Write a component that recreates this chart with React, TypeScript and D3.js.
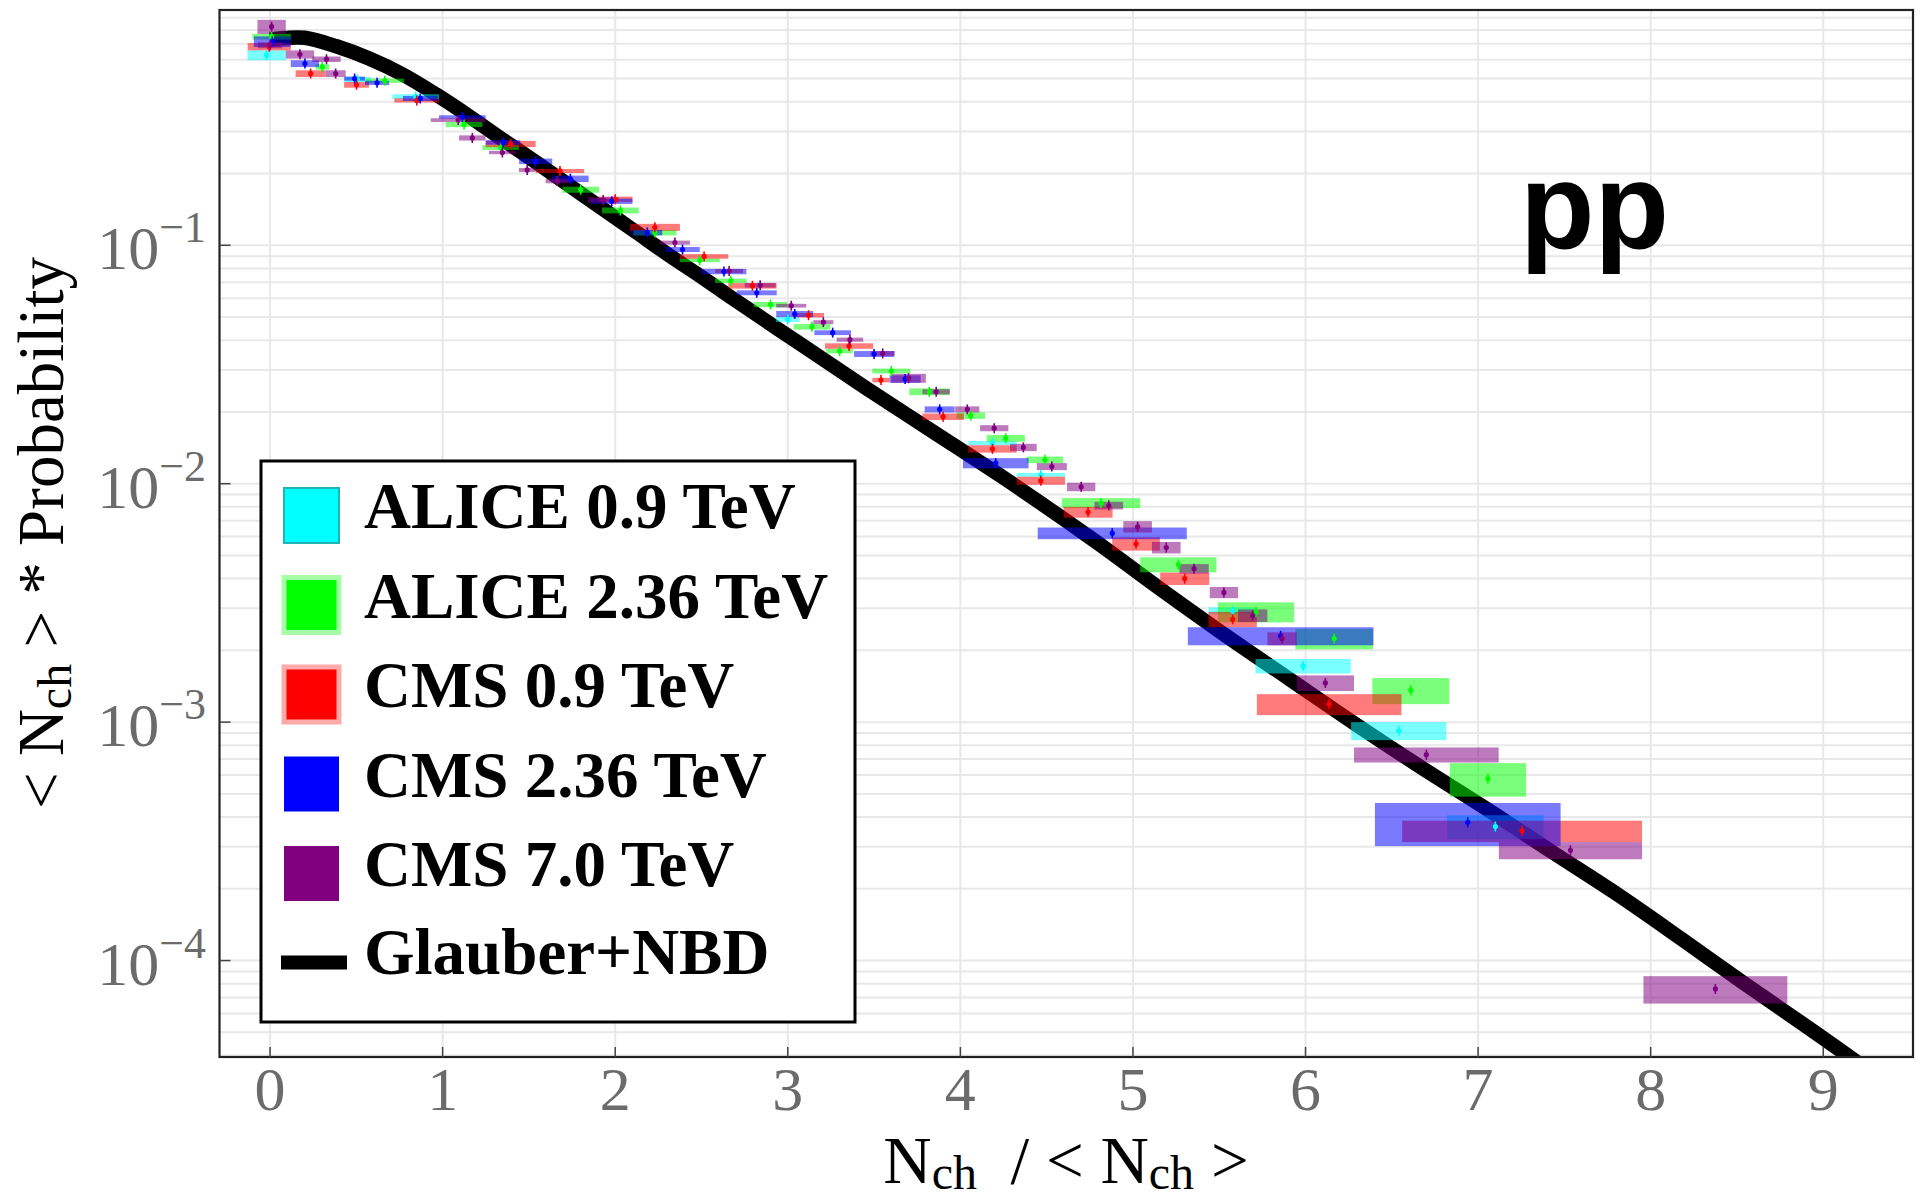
import React from 'react';
import * as d3 from 'd3';

// ---------- data ----------
const xTicks = [0, 1, 2, 3, 4, 5, 6, 7, 8, 9];
const yTickExps = [-1, -2, -3, -4];

// each point: [x, xHalfWidth, y, yErr]
const alice09: number[][] = [
  [-0.02, 0.111, 0.627, 0.03], [0.506, 0.077, 0.496, 0.012], [0.844, 0.135, 0.42, 0.01],
  [3.0, 0.068, 0.0489, 0.0012], [4.186, 0.14, 0.0148, 0.0003], [4.466, 0.14, 0.0109, 0.0002],
  [5.578, 0.14, 0.00293, 0.0001], [5.986, 0.276, 0.00172, 0.00012], [6.54, 0.276, 0.00092, 0.00008],
  [7.10, 0.28, 0.000365, 0.000042],
];
const alice236: number[][] = [
  [0.009, 0.111, 0.75, 0.021], [0.303, 0.039, 0.56, 0.015], [0.665, 0.111, 0.49, 0.01],
  [1.124, 0.106, 0.321, 0.008], [1.336, 0.106, 0.257, 0.006], [1.8, 0.106, 0.171, 0.005],
  [2.03, 0.106, 0.14, 0.004], [2.23, 0.125, 0.113, 0.003], [2.49, 0.116, 0.0865, 0.0015],
  [2.67, 0.092, 0.071, 0.0015], [2.9, 0.097, 0.0564, 0.0014], [3.14, 0.106, 0.0455, 0.0012],
  [3.3, 0.077, 0.036, 0.0008], [3.6, 0.11, 0.0297, 0.0007], [3.82, 0.116, 0.0243, 0.0008],
  [4.06, 0.083, 0.0193, 0.0006], [4.263, 0.111, 0.0155, 0.0005], [4.49, 0.106, 0.0126, 0.0004],
  [4.815, 0.227, 0.0083, 0.0004], [5.263, 0.221, 0.00458, 0.00033], [5.713, 0.221, 0.0029, 0.00028],
  [6.166, 0.225, 0.00224, 0.00022], [6.61, 0.223, 0.00136, 0.00017], [7.057, 0.221, 0.00058, 0.000093],
];
const cms09: number[][] = [
  [-0.005, 0.125, 0.681, 0.024], [0.235, 0.087, 0.525, 0.017], [0.501, 0.072, 0.471, 0.013],
  [0.85, 0.13, 0.405, 0.008], [1.394, 0.145, 0.266, 0.008], [1.68, 0.14, 0.205, 0.004],
  [2.0, 0.1, 0.156, 0.004], [2.23, 0.145, 0.119, 0.004], [2.515, 0.14, 0.0898, 0.002],
  [2.795, 0.14, 0.0676, 0.0018], [3.12, 0.09, 0.0509, 0.0011], [3.355, 0.14, 0.0378, 0.001],
  [3.54, 0.05, 0.0272, 0.0006], [3.9, 0.12, 0.0191, 0.0006], [4.186, 0.14, 0.014, 0.0005],
  [4.466, 0.14, 0.0103, 0.0004], [4.74, 0.142, 0.0076, 0.0004], [5.018, 0.138, 0.0056, 0.00036],
  [5.3, 0.142, 0.004, 0.00024], [5.578, 0.14, 0.0027, 0.0002], [6.137, 0.419, 0.00119, 0.00012],
  [7.255, 0.695, 0.00035, 0.000036],
];
const cms236: number[][] = [
  [0.013, 0.107, 0.715, 0.037], [0.202, 0.082, 0.578, 0.019], [0.49, 0.06, 0.5, 0.01],
  [0.62, 0.07, 0.48, 0.01], [0.87, 0.1, 0.413, 0.01], [1.114, 0.135, 0.345, 0.006],
  [1.35, 0.1, 0.27, 0.006], [1.539, 0.096, 0.225, 0.006], [1.74, 0.106, 0.19, 0.006],
  [1.98, 0.12, 0.153, 0.004], [2.186, 0.087, 0.113, 0.003], [2.39, 0.1, 0.096, 0.0023],
  [2.63, 0.13, 0.0776, 0.002], [2.82, 0.116, 0.0632, 0.0015], [3.04, 0.107, 0.0515, 0.0015],
  [3.26, 0.106, 0.043, 0.001], [3.5, 0.116, 0.035, 0.001], [3.68, 0.09, 0.0275, 0.001],
  [3.88, 0.087, 0.0205, 0.0006], [4.205, 0.19, 0.0122, 0.0006], [4.88, 0.432, 0.0062, 0.00035],
  [5.856, 0.538, 0.0023, 0.0002], [6.94, 0.538, 0.00038, 0.000078],
];
const cms70: number[][] = [
  [0.009, 0.082, 0.826, 0.056], [0.0, 0.07, 0.69, 0.02], [0.173, 0.082, 0.632, 0.025],
  [0.327, 0.082, 0.603, 0.016], [0.38, 0.058, 0.525, 0.017], [1.09, 0.159, 0.335, 0.006],
  [1.172, 0.077, 0.282, 0.007], [1.346, 0.077, 0.245, 0.004], [1.49, 0.048, 0.207, 0.004],
  [1.664, 0.067, 0.186, 0.004], [1.93, 0.09, 0.155, 0.004], [2.346, 0.087, 0.1026, 0.002],
  [2.66, 0.08, 0.078, 0.0015], [2.84, 0.09, 0.068, 0.0015], [3.02, 0.087, 0.0558, 0.001],
  [3.206, 0.058, 0.0476, 0.0009], [3.36, 0.077, 0.0402, 0.0008], [3.55, 0.07, 0.0352, 0.0008],
  [3.7, 0.1, 0.0277, 0.0012], [3.86, 0.08, 0.0243, 0.0006], [4.04, 0.07, 0.0205, 0.0006],
  [4.196, 0.082, 0.0171, 0.0005], [4.365, 0.077, 0.0142, 0.0005], [4.53, 0.087, 0.0118, 0.0004],
  [4.7, 0.082, 0.0097, 0.0004], [4.86, 0.083, 0.0081, 0.0003], [5.027, 0.083, 0.0066, 0.00036],
  [5.193, 0.083, 0.0054, 0.0003], [5.354, 0.085, 0.0044, 0.0002], [5.527, 0.082, 0.0035, 0.00019],
  [5.694, 0.085, 0.0028, 0.00017], [5.864, 0.085, 0.00224, 0.00014], [6.115, 0.166, 0.00146, 0.00011],
  [6.7, 0.419, 0.00073, 0.000053], [7.535, 0.415, 0.00029, 0.000024], [8.375, 0.417, 0.000076, 0.00001],
];

// Glauber+NBD curve
const curveX = [0.0, 0.09, 0.2, 0.38, 0.574, 0.767, 0.96, 1.153, 1.346, 1.539, 1.732, 1.925, 2.119, 2.312,
  2.505, 2.684, 3.071, 3.457, 3.843, 4.229, 4.78, 5.156, 5.533, 5.91, 6.29, 6.67, 7.04, 7.42, 7.8, 8.18,
  8.55, 8.93, 9.3];
const curveY = [0.728, 0.74, 0.742, 0.685, 0.607, 0.521, 0.43, 0.348, 0.278, 0.2235, 0.1785, 0.1426, 0.1138,
  0.0908, 0.0733, 0.0596, 0.0386, 0.0251, 0.0165, 0.01084, 0.00575, 0.00363, 0.00232, 0.00151, 0.00098,
  0.000646, 0.000437, 0.000288, 0.000191, 0.000123, 0.0000794, 0.0000513, 0.0000331];

const seriesNames = ['ALICE 0.9 TeV', 'ALICE 2.36 TeV', 'CMS 0.9 TeV', 'CMS 2.36 TeV', 'CMS 7.0 TeV'];
const modelName = 'Glauber+NBD';
const panelLabel = 'pp';

const SERIF = '"Liberation Serif", "Times New Roman", "DejaVu Serif", serif';
const SANS = '"Liberation Sans", Arial, Helvetica, sans-serif';

export default function App() {
  const W = 1923, H = 1202;
  const L = 219.5, R = 1913, T = 10, B = 1057;
  const x = d3.scaleLinear().domain([-0.293, 9.52]).range([L, R]);
  const y = d3.scaleLog().domain([3.94e-5, 0.97]).range([B, T]);

  const seriesData = [alice09, alice236, cms09, cms236, cms70];
  const colors = ['#00ffff', '#00ff00', '#ff0000', '#0000ff', '#800080'];
  const swatchStroke = ['#22b4b4', '#a6ffa6', '#ffaaaa', '#0000ff', '#800080'];
  const swatchStrokeW = [2, 5, 5, 0, 0];

  const minor: number[] = [];
  for (let e = -5; e <= -1; e++) {
    for (let k = 1; k <= 9; k++) {
      const v = k * Math.pow(10, e);
      if (v >= 3.94e-5 && v <= 0.97) minor.push(v);
    }
  }

  const curvePts = curveX.map((cx, i) => [cx, curveY[i]] as [number, number]);
  const line = d3.line<[number, number]>()
    .x(d => x(d[0]))
    .y(d => y(d[1]))
    .curve(d3.curveCatmullRom.alpha(0.5));

  const tickGray = '#6b6b6b';
  const legX = 261, legY = 461, legW = 594, legH = 561;
  const rowY = (i: number) => 515 + i * 89.5;

  return (
    <svg width={W} height={H} viewBox={`0 0 ${W} ${H}`}
      style={{ position: 'absolute', left: 0, top: 0, display: 'block', background: '#fff' }}>
      <defs>
        <clipPath id="plotClip">
          <rect x={L} y={T} width={R - L} height={B - T} />
        </clipPath>
      </defs>
      <rect x={0} y={0} width={W} height={H} fill="#fff" />

      {/* grid */}
      <g stroke="#e8e8e8" strokeWidth={2}>
        {minor.map((v, i) => (
          <line key={'h' + i} x1={L} x2={R} y1={y(v)} y2={y(v)} />
        ))}
        {xTicks.map(t => (
          <line key={'v' + t} x1={x(t)} x2={x(t)} y1={T} y2={B} />
        ))}
      </g>

      {/* curve */}
      <g clipPath="url(#plotClip)">
        <path d={line(curvePts) || ''} fill="none" stroke="#000" strokeWidth={14.5} strokeLinecap="butt" />
      </g>

      {/* data boxes */}
      <g clipPath="url(#plotClip)">
        {seriesData.map((arr, si) => (
          <g key={'s' + si}>
            {arr.map((d, i) => {
              const x0 = x(d[0] - d[1]);
              const x1 = x(d[0] + d[1]);
              const y0 = y(d[2] + d[3]);
              const y1 = y(Math.max(d[2] - d[3], 1e-6));
              return (
                <rect key={i} x={x0} y={y0} width={x1 - x0} height={y1 - y0}
                  fill={colors[si]} fillOpacity={0.52} />
              );
            })}
          </g>
        ))}
        {seriesData.map((arr, si) => (
          <g key={'m' + si}>
            {arr.map((d, i) => (
              <g key={i}>
                <line x1={x(d[0])} x2={x(d[0])} y1={y(d[2]) - 5} y2={y(d[2]) + 5}
                  stroke={colors[si]} strokeWidth={1.6} />
                <circle cx={x(d[0])} cy={y(d[2])} r={2.6} fill={colors[si]} />
              </g>
            ))}
          </g>
        ))}
      </g>

      {/* frame */}
      <rect x={L} y={T} width={R - L} height={B - T} fill="none" stroke="#222" strokeWidth={2.2} />

      {/* ticks */}
      <g stroke="#444" strokeWidth={1.5}>
        {xTicks.map(t => (
          <line key={'xt' + t} x1={x(t)} x2={x(t)} y1={B} y2={B - 10} />
        ))}
        {yTickExps.map(e => (
          <line key={'yt' + e} x1={L} x2={L + 11} y1={y(Math.pow(10, e))} y2={y(Math.pow(10, e))} />
        ))}
      </g>

      {/* x tick labels */}
      <g fontFamily={SERIF} fontSize={62} fill={tickGray} textAnchor="middle">
        {xTicks.map(t => (
          <text key={'xl' + t} x={x(t)} y={1110}>{t}</text>
        ))}
      </g>

      {/* y tick labels */}
      <g fontFamily={SERIF} fill={tickGray} textAnchor="end">
        {yTickExps.map(e => (
          <text key={'yl' + e} x={206} y={y(Math.pow(10, e)) + 24} fontSize={62}>
            10<tspan fontSize={44} dy={-27}>{'\u2212' + Math.abs(e)}</tspan>
          </text>
        ))}
      </g>

      {/* axis titles */}
      <text x={1066} y={1183} fontFamily={SERIF} fontSize={67} textAnchor="middle" fill="#000">
        N<tspan fontSize={48} dy={6}>ch</tspan>
        <tspan dy={-6}>{'\u00a0\u00a0/ < N'}</tspan>
        <tspan fontSize={48} dy={6}>ch</tspan>
        <tspan dy={-6}>{' >'}</tspan>
      </text>
      <text transform={`translate(63, 533) rotate(-90)`} fontFamily={SERIF} fontSize={65}
        textAnchor="middle" fill="#000">
        {'< N'}<tspan fontSize={48} dy={8}>ch</tspan>
        <tspan dy={-8}>{' > * Probability'}</tspan>
      </text>

      {/* panel label */}
      <text x={1520} y={249} fontFamily={SANS} fontWeight="bold" fontSize={122} fill="#000">{panelLabel}</text>

      {/* legend */}
      <g>
        <rect x={legX} y={legY} width={legW} height={legH} fill="#fff" stroke="#000" strokeWidth={3} />
        {seriesNames.map((name, i) => (
          <g key={'lg' + i}>
            <rect x={284} y={rowY(i) - 27} width={55} height={55} fill={colors[i]}
              stroke={swatchStroke[i]} strokeWidth={swatchStrokeW[i]} />
            <text x={364} y={rowY(i) + 13} fontFamily={SERIF} fontWeight="bold" fontSize={65} fill="#000">{name}</text>
          </g>
        ))}
        <line x1={281} x2={347} y1={rowY(5)} y2={rowY(5)} stroke="#000" strokeWidth={14} />
        <text x={364} y={rowY(5) + 11} fontFamily={SERIF} fontWeight="bold" fontSize={65} fill="#000">{modelName}</text>
      </g>
    </svg>
  );
}
